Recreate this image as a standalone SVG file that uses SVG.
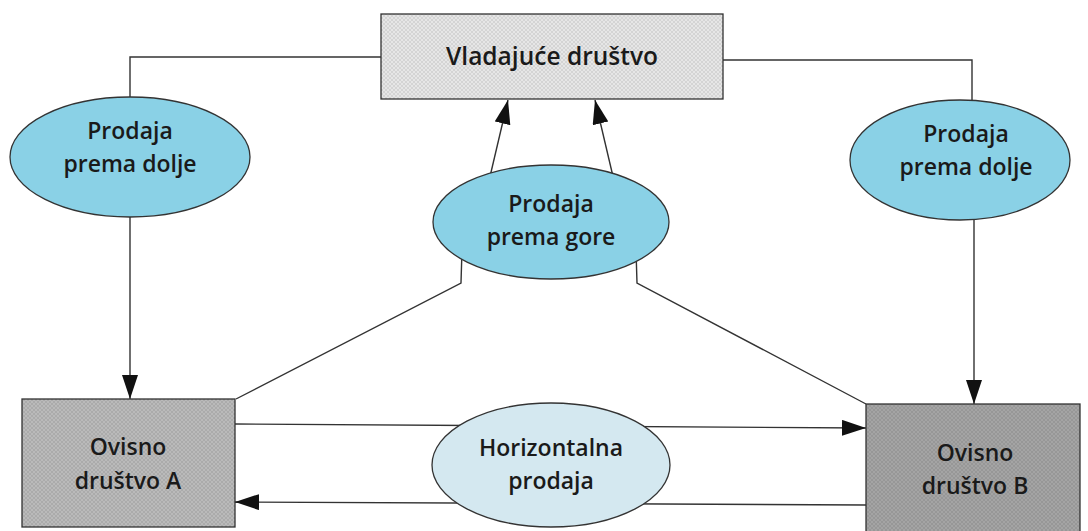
<svg xmlns="http://www.w3.org/2000/svg" width="1088" height="531" viewBox="0 0 1088 531">
<defs>
<marker id="ah" markerUnits="userSpaceOnUse" markerWidth="26" markerHeight="18" refX="24" refY="8" orient="auto">
<path d="M0,0 L24,8 L0,16 Z" fill="#111"/>
</marker>
<pattern id="tex" width="4" height="4" patternUnits="userSpaceOnUse">
<path d="M0,4 L4,0 M0,0 L4,4" stroke="#000" stroke-opacity="0.08" stroke-width="1"/>
</pattern>
<style>
.ln{fill:none;stroke:#333;stroke-width:1.4}
.el{fill:#8ad1e6;stroke:#333;stroke-width:1.3}
.bx{stroke:#333;stroke-width:1.3}
.t{font-family:"Open Sans","Noto Sans","DejaVu Sans",sans-serif;font-size:23px;font-weight:600;fill:#1a1a1a;text-anchor:middle}
.tb{font-size:24.5px}
</style>
</defs>
<rect width="1088" height="531" fill="#fff"/>
<g id="connectors">
<polyline class="ln" points="381,57 130,57 130,97"/>
<polyline class="ln" points="723,60 972,60 972,100"/>
<line class="ln" x1="130" y1="210" x2="130" y2="399" marker-end="url(#ah)"/>
<line class="ln" x1="974" y1="212" x2="974" y2="404" marker-end="url(#ah)"/>
<line class="ln" x1="488" y1="185" x2="508" y2="100" marker-end="url(#ah)"/>
<line class="ln" x1="615" y1="185" x2="595" y2="100" marker-end="url(#ah)"/>
<polyline class="ln" points="462,250 461,283 236,399"/>
<polyline class="ln" points="636,250 637,283 866,404"/>
<line class="ln" x1="235" y1="424" x2="866" y2="428" marker-end="url(#ah)"/>
<line class="ln" x1="866" y1="505" x2="235" y2="502" marker-end="url(#ah)"/>
</g>
<g id="vladajuce">
<rect class="bx" x="381" y="14" width="342" height="85" fill="#e6e6e6"/>
<rect x="381" y="14" width="342" height="85" fill="url(#tex)"/>
<text class="t tb" x="552" y="65">Vladajuće društvo</text>
</g>
<g id="prodaja-dolje-lijevo">
<ellipse class="el" cx="130" cy="157" rx="120" ry="60"/>
<text class="t" x="130" y="139">Prodaja</text>
<text class="t" x="130" y="172">prema dolje</text>
</g>
<g id="prodaja-dolje-desno">
<ellipse class="el" cx="960" cy="160" rx="110" ry="60"/>
<text class="t" x="966" y="142">Prodaja</text>
<text class="t" x="966" y="175">prema dolje</text>
</g>
<g id="prodaja-gore">
<ellipse class="el" cx="551" cy="222" rx="118" ry="57"/>
<text class="t" x="551" y="212">Prodaja</text>
<text class="t" x="551" y="245">prema gore</text>
</g>
<g id="horizontalna">
<ellipse class="el" cx="551" cy="465" rx="119" ry="62" style="fill:#d4e8f0"/>
<text class="t" x="551" y="456">Horizontalna</text>
<text class="t" x="551" y="489">prodaja</text>
</g>
<g id="ovisno-a">
<rect class="bx" x="22" y="399" width="213" height="128" fill="#bababa"/>
<rect x="22" y="399" width="213" height="128" fill="url(#tex)"/>
<text class="t" x="128" y="455">Ovisno</text>
<text class="t" x="128" y="489">društvo A</text>
</g>
<g id="ovisno-b">
<rect class="bx" x="866" y="404" width="214" height="140" fill="#a4a4a4"/>
<rect x="866" y="404" width="214" height="140" fill="url(#tex)"/>
<text class="t" x="975" y="461">Ovisno</text>
<text class="t" x="975" y="494">društvo B</text>
</g>
</svg>
